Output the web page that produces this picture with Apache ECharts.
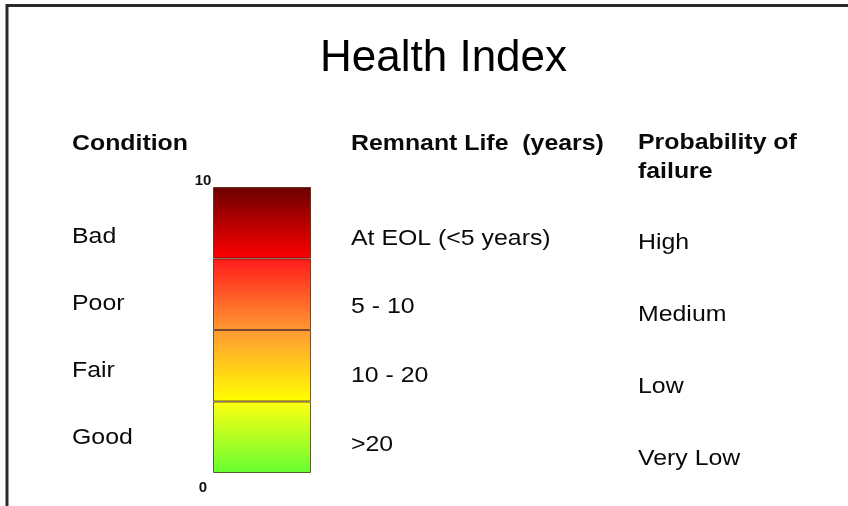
<!DOCTYPE html>
<html>
<head>
<meta charset="utf-8">
<script src="https://cdn.jsdelivr.net/npm/echarts@6/dist/echarts.min.js"></script>
<style>
  html, body { margin: 0; padding: 0; background: #fff; }
  #chart { width: 848px; height: 506px; }
</style>
</head>
<body>
<div id="chart"></div>
<script>
// 数据
const bands = ['Good', 'Fair', 'Poor', 'Bad'];          // 由下到上
const bandValues = [2.5, 2.5, 2.5, 2.5];
const axisTicks = [0, 10];
const conditions = ['Bad', 'Poor', 'Fair', 'Good'];
const remnantLife = ['At EOL (<5 years)', '5 - 10', '10 - 20', '>20'];
const probability = ['High', 'Medium', 'Low', 'Very Low'];
const headers = ['Condition', 'Remnant Life  (years)', 'Probability of\nfailure'];

// 每段的渐变色（上 -> 下）
const bandColors = [
  ['#ffff10', '#66ff33'],
  ['#ff9933', '#ffff00'],
  ['#ff1a1a', '#ff9933'],
  ['#6b0000', '#ff0000']
];

const FONT = '"Liberation Sans", Arial, sans-serif';
const STRETCH = 1.13;   // 原图文字横向拉伸

const chart = echarts.init(document.getElementById('chart'));

function txt(str, x, y, size, bold) {
  return {
    type: 'text', x: x, y: y, scaleX: STRETCH,
    style: {
      text: str, fill: '#0a0a0a', fontSize: size, fontFamily: FONT,
      fontWeight: bold ? 'bold' : 'normal',
      align: 'left', verticalAlign: 'middle', lineHeight: 29
    }
  };
}

const graphics = [
  // 边框（上、左）
  { type: 'line', shape: { x1: 6, y1: 5.5, x2: 848, y2: 5.5 }, style: { stroke: '#2a2a2a', lineWidth: 3 } },
  { type: 'line', shape: { x1: 7, y1: 4, x2: 7, y2: 506 }, style: { stroke: '#2a2a2a', lineWidth: 3 } },
  txt(headers[0], 72, 143.5, 22, true),
  txt(headers[1], 351, 143.5, 22, true),
  txt(headers[2], 638, 157.5, 22, true)
];
conditions.forEach((c, i) => graphics.push(txt(c, 72, 236.5 + i * 67, 22, false)));
remnantLife.forEach((c, i) => graphics.push(txt(c, 351, 238.5 + i * 68.7, 22, false)));
probability.forEach((c, i) => graphics.push(txt(c, 638, 242.5 + i * 72, 22, false)));

const option = {
  animation: false,
  title: {
    text: 'Health Index',
    left: 315, top: 32,
    textStyle: { fontFamily: FONT, fontSize: 44, fontWeight: 'normal', color: '#000' }
  },
  grid: { left: 213, top: 187, width: 98, height: 286 },
  xAxis: { type: 'category', data: ['HI'], show: false },
  yAxis: {
    type: 'value', min: 0, max: 10, interval: 10,
    axisLine: { show: false }, axisTick: { show: false }, splitLine: { show: false },
    axisLabel: {
      margin: 10, align: 'center',
      formatter: v => (v === axisTicks[1] ? '{t|' + v + '}' : '{b|' + v + '}'),
      rich: {
        t: { fontFamily: FONT, fontSize: 15, fontWeight: 'bold', color: '#111', padding: [0, 0, 13, 0] },
        b: { fontFamily: FONT, fontSize: 15, fontWeight: 'bold', color: '#111', padding: [30, 0, 0, 0] }
      }
    }
  },
  series: bands.map((name, i) => ({
    name: name,
    type: 'bar',
    stack: 'hi',
    barWidth: '100%',
    data: [bandValues[i]],
    itemStyle: {
      borderColor: 'rgba(60,20,0,0.7)',
      borderWidth: 1,
      color: new echarts.graphic.LinearGradient(0, 0, 0, 1, [
        { offset: 0, color: bandColors[i][0] },
        { offset: 1, color: bandColors[i][1] }
      ])
    }
  })),
  graphic: graphics
};

chart.setOption(option);
</script>
</body>
</html>
